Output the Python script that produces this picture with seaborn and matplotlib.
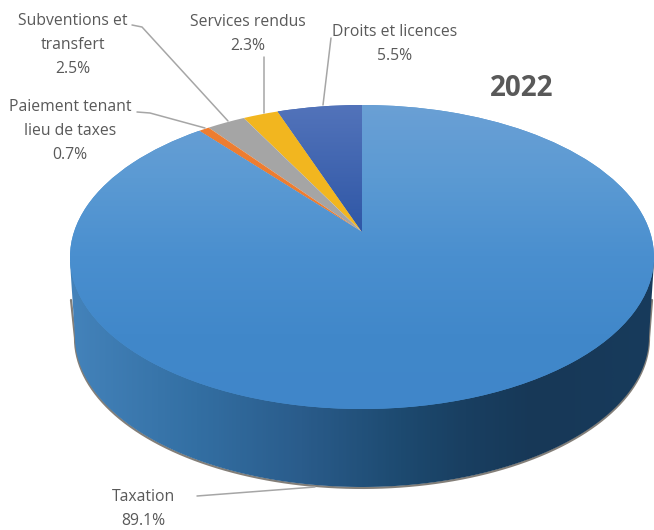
import numpy as np
import matplotlib
matplotlib.use("Agg")
import matplotlib.pyplot as plt
import seaborn as sns
from matplotlib.colors import LinearSegmentedColormap
from matplotlib.patches import Polygon
from matplotlib.transforms import Transform

# Data (counter-clockwise from the top of the pie)
categories = ["Droits et licences", "Services rendus", "Subventions et\ntransfert",
              "Paiement tenant\nlieu de taxes", "Taxation"]
shares = [5.5, 2.3, 2.5, 0.7, 89.1]
year = "2022"
slice_colors = ["#3f63ad", "#f2b61f", "#a5a5a5", "#ed7d31", "#4f93d0"]

W, H = 654, 530
CX, CY, A, B = 362, 257, 292, 152
APEX_SHIFT = (257 - 232) / 152


def px(x, y):
    return (x - CX) / A, (CY - y) / B


class Perspective(Transform):
    """Projective map of the unit disc onto itself, moving the pie's centre up."""
    input_dims = output_dims = 2

    def __init__(self, k):
        super().__init__()
        self.k = k

    def transform_non_affine(self, values):
        v = np.asarray(values, dtype=float)
        d = 1 + self.k * v[:, 1]
        return np.column_stack([v[:, 0] * np.sqrt(1 - self.k ** 2) / d,
                                (v[:, 1] + self.k) / d])


sns.set_theme(style="white")
plt.rcParams["font.family"] = ["Open Sans", "DejaVu Sans"]

fig = plt.figure(figsize=(W / 100, H / 100), dpi=100, facecolor="white")
ax = fig.add_axes([0, 0, 1, 1])

wedges, _ = ax.pie(shares, colors=slice_colors, startangle=90, counterclock=True, radius=1)
ax.set_aspect("auto")
xlim = (px(0, 0)[0], px(W, 0)[0])
ylim = (px(0, H)[1], px(0, 0)[1])
persp = Perspective(APEX_SHIFT)
for w in wedges:
    w.set_transform(persp + ax.transData)
    w.set_zorder(3)
    w.set_linewidth(0)

# Side wall of the disc
t = np.linspace(np.pi, 2 * np.pi, 200)
bx = 362 + 287 * np.cos(t)
by = 337 - 150 * np.sin(t)
rim = np.column_stack([(bx - CX) / A, (CY - by) / B])
wall = np.vstack([px(70, 262), rim, px(654, 262)])
wall_patch = Polygon(wall, closed=True, transform=ax.transData, facecolor="none", edgecolor="none")
ax.add_patch(wall_patch)
side_cmap = LinearSegmentedColormap.from_list("side", [
    (0.00, "#4483bb"), (0.22, "#336fa3"), (0.40, "#2a5c8b"),
    (0.57, "#1d4a70"), (0.68, "#193f61"), (0.80, "#173857"), (1.00, "#183b5c")])
im = ax.imshow(np.linspace(0, 1, 300)[None, :], cmap=side_cmap, aspect="auto", zorder=2,
               extent=(px(66, 0)[0], px(654, 0)[0], px(0, 490)[1], px(0, 250)[1]))
im.set_clip_path(wall_patch)
shadow_x = np.concatenate([[px(71, 300)[0]], rim[:, 0], [px(652, 300)[0]]])
shadow_y = np.concatenate([[px(0, 300)[1]], rim[:, 1] - 0.006, [px(0, 300)[1]]])
ax.plot(shadow_x, shadow_y, color="#5a544c", lw=1.6, alpha=0.75, zorder=1)

# Top-face shading
top_cmap = LinearSegmentedColormap.from_list("top", ["#6ba0d5", "#5b9ad3", "#4a8fcf", "#4188ca", "#4086c9"])
im = ax.imshow(np.linspace(0, 1, 300)[:, None], cmap=top_cmap, aspect="auto", zorder=4,
               extent=(-1.05, 1.05, px(0, 412)[1], px(0, 100)[1]))
im.set_clip_path(wedges[4])
blue_cmap = LinearSegmentedColormap.from_list("dblue", ["#5273ba", "#2f57a6"])
im = ax.imshow(np.linspace(0, 1, 100)[:, None], cmap=blue_cmap, aspect="auto", zorder=4,
               extent=(-1.05, 1.05, px(0, 232)[1], px(0, 105)[1]))
im.set_clip_path(wedges[0])

# Leader lines, one per label
leaders = {
    0: [(331, 38), (323, 105)],
    1: [(264, 57), (264, 113)],
    2: [(132, 25), (142, 27), (228, 121)],
    3: [(137, 112), (150, 113), (205, 128)],
    4: [(197, 496), (315, 487)],
}
label_pos = {0: (395, 44), 1: (248, 34), 2: (73, 45), 3: (70, 131), 4: (143, 509)}
for i, name in enumerate(categories):
    pts = np.array([px(*p) for p in leaders[i]])
    ax.plot(pts[:, 0], pts[:, 1], color="#a6a6a6", lw=1.1, zorder=5)
    x, y = px(*label_pos[i])
    ax.text(x, y, f"{name}\n{shares[i]}%", ha="center", va="center", color="#595959",
            fontsize=11.3, linespacing=1.7, zorder=6)

x, y = px(522, 89)
ax.text(x, y, year, ha="center", va="center", color="#595959", fontsize=20,
        fontweight="bold", zorder=6)

ax.set_xlim(*xlim)
ax.set_ylim(*ylim)
ax.axis("off")
fig.savefig("out.png", dpi=100, facecolor="white")
